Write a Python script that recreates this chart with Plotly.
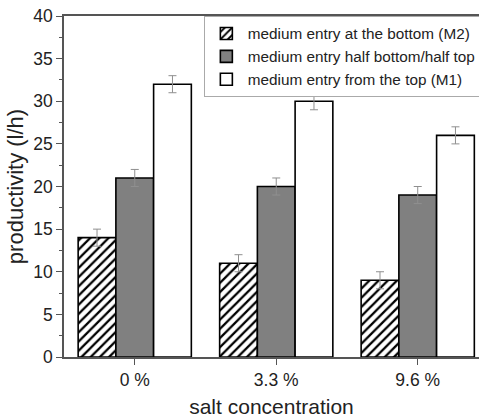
import plotly.graph_objects as go

categories = ["0 %", "3.3 %", "9.6 %"]
series_names = [
    "medium entry at the bottom (M2)",
    "medium entry half bottom/half top",
    "medium entry from the top (M1)",
]
m2_values = [14, 11, 9]
half_values = [21, 20, 19]
m1_values = [32, 30, 26]
m2_err = [1, 1, 1]
half_err = [1, 1, 1]
m1_err = [1, 1, 1]

FONT = "Liberation Sans, Arial, sans-serif"
err_style = dict(type="data", visible=True, color="#8f8f8f", thickness=1, width=4)
outline = dict(color="black", width=1.6)

fig = go.Figure()
fig.add_trace(go.Bar(
    x=categories, y=m2_values, name=series_names[0],
    error_y=dict(array=m2_err, **err_style),
    marker=dict(color="white", line=outline,
                pattern=dict(shape="/", fgcolor="black", bgcolor="white",
                             fgopacity=1, size=6.5, solidity=0.35)),
))
fig.add_trace(go.Bar(
    x=categories, y=half_values, name=series_names[1],
    error_y=dict(array=half_err, **err_style),
    marker=dict(color="#808080", line=outline),
))
fig.add_trace(go.Bar(
    x=categories, y=m1_values, name=series_names[2],
    error_y=dict(array=m1_err, **err_style),
    marker=dict(color="white", line=outline),
))

fig.update_layout(
    width=479, height=418,
    margin=dict(l=64, r=0, t=16, b=61, autoexpand=False),
    paper_bgcolor="white", plot_bgcolor="white",
    barmode="group", bargap=0.2, bargroupgap=0,
    font=dict(family=FONT, color="#222", size=17.5),
    showlegend=True,
    legend=dict(
        x=0.337, y=1, xanchor="left", yanchor="top",
        bgcolor="white", bordercolor="#aaa", borderwidth=1,
        font=dict(size=15.3, family=FONT, color="#222"),
        tracegroupgap=0, itemwidth=33,
    ),
    xaxis=dict(
        type="category", range=[-0.5, 2.433],
        showline=True, linecolor="#555", linewidth=1.5, mirror=True,
        ticks="outside", ticklen=6, tickcolor="#555",
        tickfont=dict(size=17.5), showgrid=False,
        title=dict(text="salt concentration", font=dict(size=21), standoff=14),
    ),
    yaxis=dict(
        range=[0, 40], dtick=5,
        showline=True, linecolor="#555", linewidth=1.5,
        ticks="outside", ticklen=6, tickcolor="#555",
        minor=dict(dtick=2.5, ticks="outside", ticklen=3, tickcolor="#555"),
        tickfont=dict(size=17.5), showgrid=False, zeroline=False,
        title=dict(text="productivity (l/h)", font=dict(size=22), standoff=4),
    ),
)

fig.write_html("out.html")
